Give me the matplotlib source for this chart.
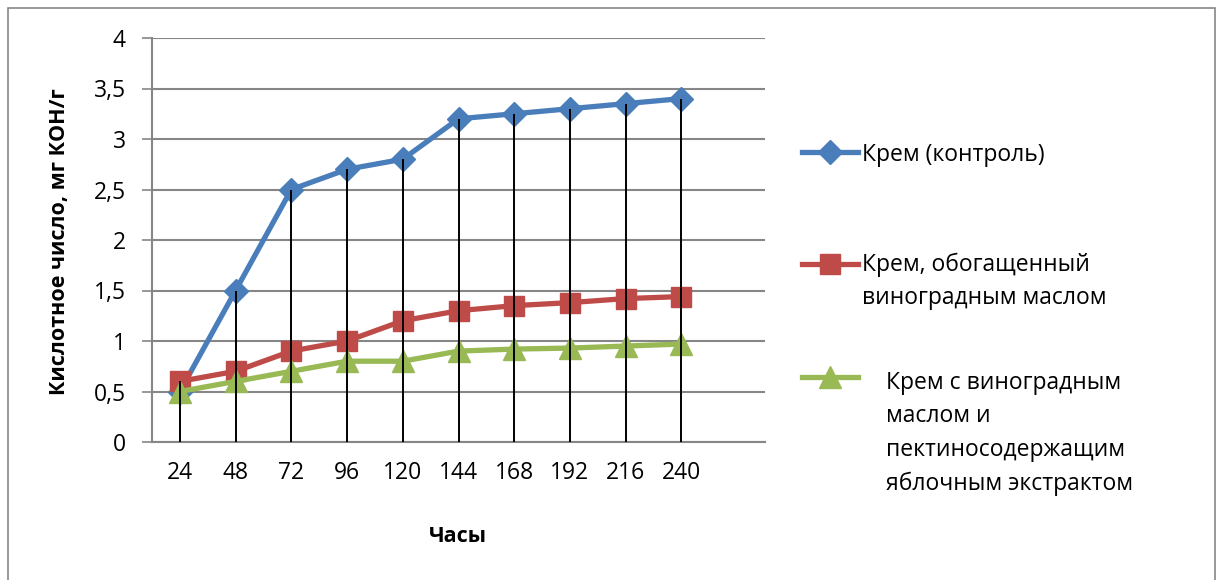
import matplotlib.pyplot as plt
from matplotlib.lines import Line2D
from matplotlib.patches import Rectangle

plt.rcParams['font.family'] = ['Open Sans', 'DejaVu Sans']

hours = ['24', '48', '72', '96', '120', '144', '168', '192', '216', '240']
control = [0.5, 1.5, 2.5, 2.7, 2.8, 3.2, 3.25, 3.3, 3.35, 3.4]
grape_oil = [0.6, 0.7, 0.9, 1.0, 1.2, 1.3, 1.35, 1.38, 1.42, 1.44]
grape_apple = [0.5, 0.6, 0.7, 0.8, 0.8, 0.9, 0.92, 0.93, 0.95, 0.97]
y_ticks = [0, 0.5, 1, 1.5, 2, 2.5, 3, 3.5, 4]
y_labels = ['0', '0,5', '1', '1,5', '2', '2,5', '3', '3,5', '4']

W, H = 1221, 580
fig = plt.figure(figsize=(W / 100, H / 100), dpi=100)
ax = fig.add_axes([152 / W, 1 - 442 / H, (765 - 152) / W, (442 - 38) / H])

x = list(range(len(hours)))
blue, red, green = '#4A7EBB', '#BE4B48', '#98B954'

ax.plot(x, control, color=blue, lw=3.8, marker='D', ms=12, zorder=3)
ax.plot(x, grape_oil, color=red, lw=3.8, marker='s', ms=14, zorder=4)
ax.plot(x, grape_apple, color=green, lw=3.8, marker='^', ms=16, zorder=5)

# drop lines from the top series down to the category axis
tops = [max(a, b, c) for a, b, c in zip(control, grape_oil, grape_apple)]
ax.vlines(x, 0, tops, color='black', lw=1.4, zorder=6)

ax.set_xlim(-0.5, 10.5)
ax.set_ylim(0, 4)
ax.set_yticks(y_ticks)
ax.set_yticklabels(y_labels, fontsize=16.5)
ax.set_xticks(x)
ax.set_xticklabels(hours, fontsize=16.5)
ax.tick_params(axis='y', length=7, color='#868686', width=1.2, pad=12)
ax.tick_params(axis='x', length=0, pad=14)
ax.yaxis.grid(True, color='#868686', lw=1.5)
ax.set_axisbelow(True)
for side in ['top', 'right']:
    ax.spines[side].set_visible(False)
for side in ['left', 'bottom']:
    ax.spines[side].set_color('#868686')
    ax.spines[side].set_linewidth(1.5)

fig.text(60 / W, 1 - 242 / H, 'Кислотное число, мг КОН/г', rotation=90,
         ha='center', va='center', fontsize=15.5, fontweight='bold')
fig.text(458 / W, 1 - 537 / H, 'Часы', ha='center', va='center',
         fontsize=15.5, fontweight='bold')

# legend drawn by hand on the right
entries = [
    (blue, 'D', 12, 152, 862, ['Крем (контроль)'], 155),
    (red, 's', 14, 264, 862, ['Крем, обогащенный', 'виноградным маслом'], 265),
    (green, '^', 16, 377, 886, ['Крем с виноградным', 'маслом и',
                                'пектиносодержащим', 'яблочным экстрактом'], 383),
]
for color, mk, ms, ly, tx, lines, ty in entries:
    fig.add_artist(Line2D([802 / W, 858 / W], [1 - ly / H, 1 - ly / H],
                          color=color, lw=3.8, transform=fig.transFigure))
    fig.add_artist(Line2D([830 / W], [1 - ly / H], color=color, marker=mk,
                          ms=ms, lw=0, transform=fig.transFigure))
    for i, line in enumerate(lines):
        fig.text(tx / W, 1 - (ty + i * 33.5) / H, line, ha='left',
                 va='center', fontsize=16.5)

fig.add_artist(Rectangle((8 / W, -0.02), (1215 - 8) / W, 1.02 - 8 / H,
                         transform=fig.transFigure, fill=False,
                         edgecolor='#868686', lw=1.2))

fig.savefig('out.png', dpi=100)
